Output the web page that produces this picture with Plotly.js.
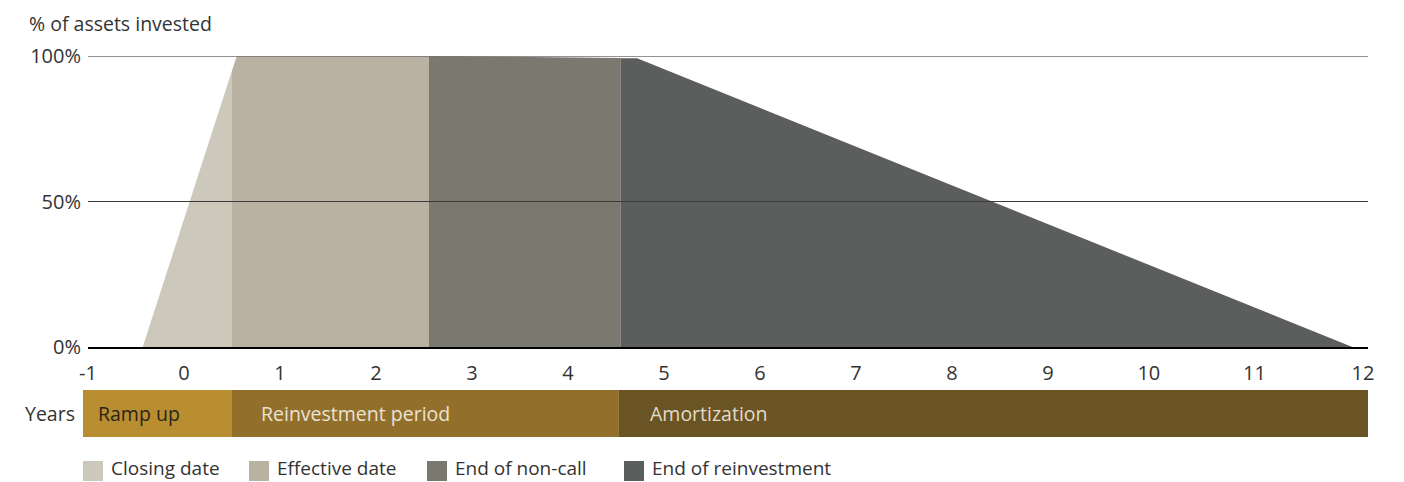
<!DOCTYPE html>
<html>
<head>
<meta charset="utf-8">
<script src="https://cdn.plot.ly/plotly-3.0.1.min.js"></script>
<style>
  html, body { margin: 0; padding: 0; background: #ffffff; }
  #chart { width: 1404px; height: 482px; }
</style>
</head>
<body>
<div id="chart"></div>
<script>
// ---------------- DATA ----------------
const seriesNames = ['Closing date', 'Effective date', 'End of non-call', 'End of reinvestment'];
const seriesColors = ['#ccc8bb', '#b9b2a2', '#7b7870', '#5c5e5d'];

// Polygon outlines (years, % of assets invested)
const closingX = [-0.43, 0.50, 0.50];
const closingY = [0, 95, 0];
const effectiveX = [0.50, 0.50, 0.55, 2.55, 2.55];
const effectiveY = [0, 95, 100, 100, 0];
const nonCallX = [2.55, 2.55, 4.55, 4.55];
const nonCallY = [0, 100, 99.3, 0];
const reinvestX = [4.55, 4.55, 4.72, 12.17];
const reinvestY = [0, 99.2, 99.2, 0];

// x-axis tick labels and where they sit on the axis
const xTickText = ['-1','0','1','2','3','4','5','6','7','8','9','10','11','12'];
const xTickPos = [-1, 0, 1, 2, 3, 4, 5, 6, 7, 8, 9, 10.05, 11.15, 12.28];

// y-axis ticks
const yTickVals = [0, 50, 100];
const yTickText = ['0%', '50%', '100%'];

// Phase bands under the axis
const phaseNames = ['Ramp up', 'Reinvestment period', 'Amortization'];
const phaseStart = [-1, 0.50, 4.53];
const phaseEnd = [0.50, 4.53, 12.333];
const phaseColors = ['#b88e30', '#936f2c', '#6b5424'];
const phaseTextColors = ['#2b2519', '#e9e3d3', '#e2dccb'];

// ---------------- LAYOUT CONSTANTS ----------------
const W = 1404, H = 482;
const M = { l: 88, r: 36, t: 56, b: 135 };
const plotW = W - M.l - M.r, plotH = H - M.t - M.b;
const px2paperX = px => (px - M.l) / plotW;
const px2paperY = py => (H - M.b - py) / plotH;
const FONT = '"Open Sans", "Noto Sans", sans-serif';
const FS = 19.5;

const polys = [[closingX, closingY], [effectiveX, effectiveY], [nonCallX, nonCallY], [reinvestX, reinvestY]];
const traces = polys.map((p, i) => ({
  type: 'scatter', mode: 'lines',
  x: p[0], y: p[1], fill: 'toself', fillcolor: seriesColors[i],
  line: { width: 0, color: seriesColors[i] },
  name: seriesNames[i], showlegend: false, hoverinfo: 'skip'
}));

const shapes = [];
// gridlines drawn over the areas
const gridColors = { 50: '#3a3a3a', 100: '#6f6f6f' };
const gridWidths = { 50: 1.2, 100: 1.6 };
yTickVals.filter(v => v > 0).forEach(v => {
  shapes.push({ type: 'line', xref: 'paper', yref: 'y', x0: 0, x1: 1, y0: v, y1: v,
    line: { color: gridColors[v], width: gridWidths[v] }, layer: 'above' });
});
// phase bands
const bandY0 = px2paperY(390), bandY1 = px2paperY(437);
phaseNames.forEach((n, i) => {
  shapes.push({ type: 'rect', xref: 'x', yref: 'paper', x0: phaseStart[i], x1: phaseEnd[i],
    y0: bandY0, y1: bandY1, fillcolor: phaseColors[i], line: { width: 0 }, layer: 'above' });
});
// small lip of the first band left of the axis start
shapes.push({ type: 'rect', xref: 'paper', yref: 'paper', x0: px2paperX(83), x1: px2paperX(89),
  y0: bandY0, y1: bandY1, fillcolor: phaseColors[0], line: { width: 0 }, layer: 'above' });
// legend squares
const legendX = [83, 249, 427, 624];
seriesNames.forEach((n, i) => {
  shapes.push({ type: 'rect', xref: 'paper', yref: 'paper',
    x0: px2paperX(legendX[i]), x1: px2paperX(legendX[i] + 20),
    y0: px2paperY(461), y1: px2paperY(481),
    fillcolor: seriesColors[i], line: { width: 0 } });
});

const annotations = [];
annotations.push({ text: '% of assets invested', xref: 'paper', yref: 'paper',
  x: px2paperX(27), y: px2paperY(24), xanchor: 'left', yanchor: 'middle', showarrow: false,
  font: { family: FONT, size: FS, color: '#333333' } });
annotations.push({ text: 'Years', xref: 'paper', yref: 'paper',
  x: px2paperX(77), y: px2paperY(413), xanchor: 'right', yanchor: 'middle', showarrow: false,
  font: { family: FONT, size: FS, color: '#333333' } });
const phaseShift = [8, 27, 29];
phaseNames.forEach((n, i) => {
  annotations.push({ text: n, xref: 'x', yref: 'paper', x: phaseStart[i], xshift: phaseShift[i],
    y: px2paperY(413), xanchor: 'left', yanchor: 'middle', showarrow: false,
    font: { family: FONT, size: FS, color: phaseTextColors[i] } });
});
seriesNames.forEach((n, i) => {
  annotations.push({ text: n, xref: 'paper', yref: 'paper',
    x: px2paperX(legendX[i] + 27), y: px2paperY(482), xanchor: 'left', yanchor: 'bottom',
    showarrow: false, borderpad: 0,
    font: { family: FONT, size: 19, color: '#333333' } });
});

const layout = {
  width: W, height: H,
  margin: M,
  paper_bgcolor: '#ffffff', plot_bgcolor: '#ffffff',
  showlegend: false,
  font: { family: FONT, size: FS, color: '#333333' },
  xaxis: {
    range: [-1, 12.333], tickmode: 'array', tickvals: xTickPos, ticktext: xTickText,
    showgrid: false, zeroline: false, showline: true, linecolor: '#000000', linewidth: 2,
    ticks: '', ticklabelstandoff: 7, fixedrange: true,
    tickfont: { family: FONT, size: 20, color: '#333333' }
  },
  yaxis: {
    range: [0, 100], tickmode: 'array', tickvals: yTickVals, ticktext: yTickText,
    showgrid: false, zeroline: false, showline: false, ticks: '', ticklabelstandoff: 6,
    fixedrange: true, tickfont: { family: FONT, size: 20, color: '#333333' }
  },
  shapes: shapes,
  annotations: annotations
};

Plotly.newPlot('chart', traces, layout, { displayModeBar: false, staticPlot: true });
</script>
</body>
</html>
